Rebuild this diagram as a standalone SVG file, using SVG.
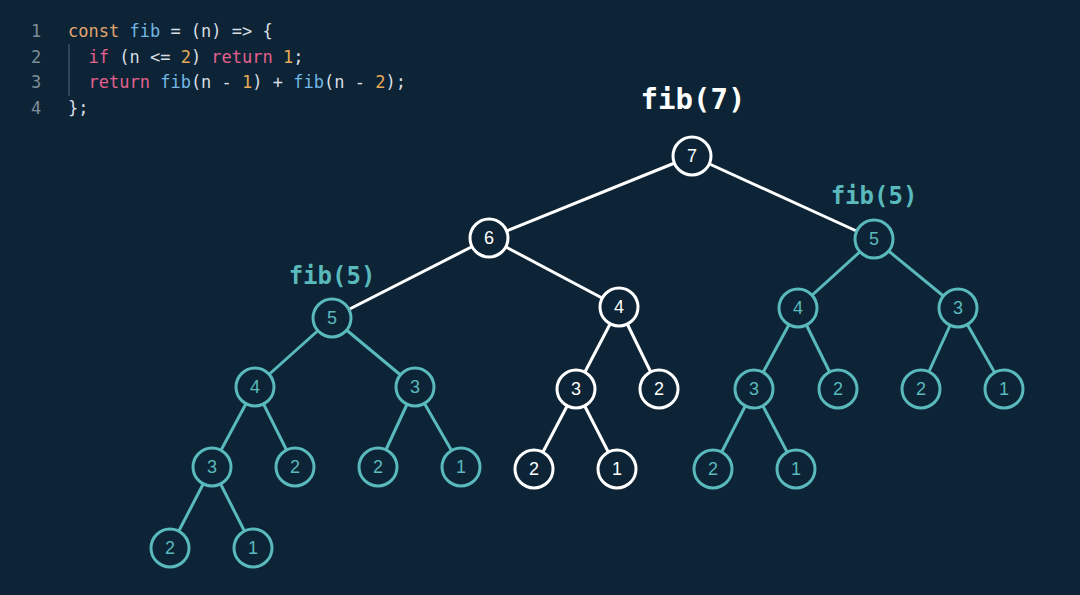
<svg xmlns="http://www.w3.org/2000/svg" width="1080" height="595" viewBox="0 0 1080 595">
<style>
.code{font-family:"DejaVu Sans Mono","Liberation Mono",monospace;font-size:17px;fill:#d8dee4}
.ln{fill:#7f8c97}
.kw{fill:#e3a46e}
.fn{fill:#72b7e4}
.pk{fill:#e4608d}
.nm{fill:#e6a957}
.title{font-family:"DejaVu Sans Mono","Liberation Mono",monospace;font-weight:bold;text-anchor:middle}
.w circle{fill:#0c2435;stroke:#ffffff;stroke-width:3}
.t circle{fill:#0c2435;stroke:#5ab9bc;stroke-width:3}
.w text{fill:#ffffff}
.t text{fill:#5ab9bc}
.node text{font-family:"Liberation Sans",Arial,sans-serif;font-size:18px;text-anchor:middle;dominant-baseline:central}
.ew{stroke:#ffffff;stroke-width:3}
.et{stroke:#5ab9bc;stroke-width:3}
</style>
<rect width="1080" height="595" fill="#0c2435"/>
<g id="code">
<line x1="69" y1="44" x2="69" y2="96" stroke="#3d5263" stroke-width="1.5"/>
<text class="code ln" x="31" y="37">1</text>
<text class="code ln" x="31" y="62.5">2</text>
<text class="code ln" x="31" y="88">3</text>
<text class="code ln" x="31" y="113.5">4</text>
<text class="code" x="68" y="37" xml:space="preserve"><tspan class="kw">const</tspan> <tspan class="fn">fib</tspan> = (n) =&gt; {</text>
<text class="code" x="68" y="62.5" xml:space="preserve">  <tspan class="pk">if</tspan> (n &lt;= <tspan class="nm">2</tspan>) <tspan class="pk">return</tspan> <tspan class="nm">1</tspan>;</text>
<text class="code" x="68" y="88" xml:space="preserve">  <tspan class="pk">return</tspan> <tspan class="fn">fib</tspan>(n - <tspan class="nm">1</tspan>) + <tspan class="fn">fib</tspan>(n - <tspan class="nm">2</tspan>);</text>
<text class="code" x="68" y="113.5">};</text>
</g>
<g id="labels">
<text class="title" x="693" y="109" font-size="29" fill="#ffffff">fib(7)</text>
<text class="title" x="874" y="204" font-size="24" fill="#5ab9bc">fib(5)</text>
<text class="title" x="332" y="284" font-size="24" fill="#5ab9bc">fib(5)</text>
</g>
<g id="connectors">
<line class="ew" x1="692" y1="156" x2="489" y2="238"/>
<line class="ew" x1="692" y1="156" x2="874" y2="239"/>
<line class="ew" x1="489" y1="238" x2="332" y2="318"/>
<line class="ew" x1="489" y1="238" x2="619" y2="307"/>
<line class="ew" x1="619" y1="307" x2="576" y2="389"/>
<line class="ew" x1="619" y1="307" x2="659" y2="389"/>
<line class="ew" x1="576" y1="389" x2="534" y2="469"/>
<line class="ew" x1="576" y1="389" x2="617" y2="469"/>
<line class="et" x1="332" y1="318" x2="255" y2="387"/>
<line class="et" x1="332" y1="318" x2="415" y2="387"/>
<line class="et" x1="255" y1="387" x2="212" y2="467"/>
<line class="et" x1="255" y1="387" x2="295" y2="467"/>
<line class="et" x1="415" y1="387" x2="378" y2="467"/>
<line class="et" x1="415" y1="387" x2="461" y2="467"/>
<line class="et" x1="212" y1="467" x2="170" y2="548"/>
<line class="et" x1="212" y1="467" x2="253" y2="548"/>
<line class="et" x1="874" y1="239" x2="798" y2="308"/>
<line class="et" x1="874" y1="239" x2="958" y2="308"/>
<line class="et" x1="798" y1="308" x2="754" y2="389"/>
<line class="et" x1="798" y1="308" x2="838" y2="389"/>
<line class="et" x1="958" y1="308" x2="921" y2="389"/>
<line class="et" x1="958" y1="308" x2="1004" y2="389"/>
<line class="et" x1="754" y1="389" x2="713" y2="469"/>
<line class="et" x1="754" y1="389" x2="796" y2="469"/>
</g>
<g id="n7" class="node w"><circle cx="692" cy="156" r="19"/><text x="692" y="156">7</text></g>
<g id="n6" class="node w"><circle cx="489" cy="238" r="19"/><text x="489" y="238">6</text></g>
<g id="n4m" class="node w"><circle cx="619" cy="307" r="19"/><text x="619" y="307">4</text></g>
<g id="n3m" class="node w"><circle cx="576" cy="389" r="19"/><text x="576" y="389">3</text></g>
<g id="n2m" class="node w"><circle cx="659" cy="389" r="19"/><text x="659" y="389">2</text></g>
<g id="n2mm" class="node w"><circle cx="534" cy="469" r="19"/><text x="534" y="469">2</text></g>
<g id="n1mm" class="node w"><circle cx="617" cy="469" r="19"/><text x="617" y="469">1</text></g>
<g id="n5l" class="node t"><circle cx="332" cy="318" r="19"/><text x="332" y="318">5</text></g>
<g id="n4l" class="node t"><circle cx="255" cy="387" r="19"/><text x="255" y="387">4</text></g>
<g id="n3l" class="node t"><circle cx="415" cy="387" r="19"/><text x="415" y="387">3</text></g>
<g id="n3ll" class="node t"><circle cx="212" cy="467" r="19"/><text x="212" y="467">3</text></g>
<g id="n2ll" class="node t"><circle cx="295" cy="467" r="19"/><text x="295" y="467">2</text></g>
<g id="n2lr" class="node t"><circle cx="378" cy="467" r="19"/><text x="378" y="467">2</text></g>
<g id="n1lr" class="node t"><circle cx="461" cy="467" r="19"/><text x="461" y="467">1</text></g>
<g id="n2lll" class="node t"><circle cx="170" cy="548" r="19"/><text x="170" y="548">2</text></g>
<g id="n1lll" class="node t"><circle cx="253" cy="548" r="19"/><text x="253" y="548">1</text></g>
<g id="n5r" class="node t"><circle cx="874" cy="239" r="19"/><text x="874" y="239">5</text></g>
<g id="n4r" class="node t"><circle cx="798" cy="308" r="19"/><text x="798" y="308">4</text></g>
<g id="n3r" class="node t"><circle cx="958" cy="308" r="19"/><text x="958" y="308">3</text></g>
<g id="n3rl" class="node t"><circle cx="754" cy="389" r="19"/><text x="754" y="389">3</text></g>
<g id="n2rl" class="node t"><circle cx="838" cy="389" r="19"/><text x="838" y="389">2</text></g>
<g id="n2rr" class="node t"><circle cx="921" cy="389" r="19"/><text x="921" y="389">2</text></g>
<g id="n1rr" class="node t"><circle cx="1004" cy="389" r="19"/><text x="1004" y="389">1</text></g>
<g id="n2rll" class="node t"><circle cx="713" cy="469" r="19"/><text x="713" y="469">2</text></g>
<g id="n1rll" class="node t"><circle cx="796" cy="469" r="19"/><text x="796" y="469">1</text></g>
</svg>
